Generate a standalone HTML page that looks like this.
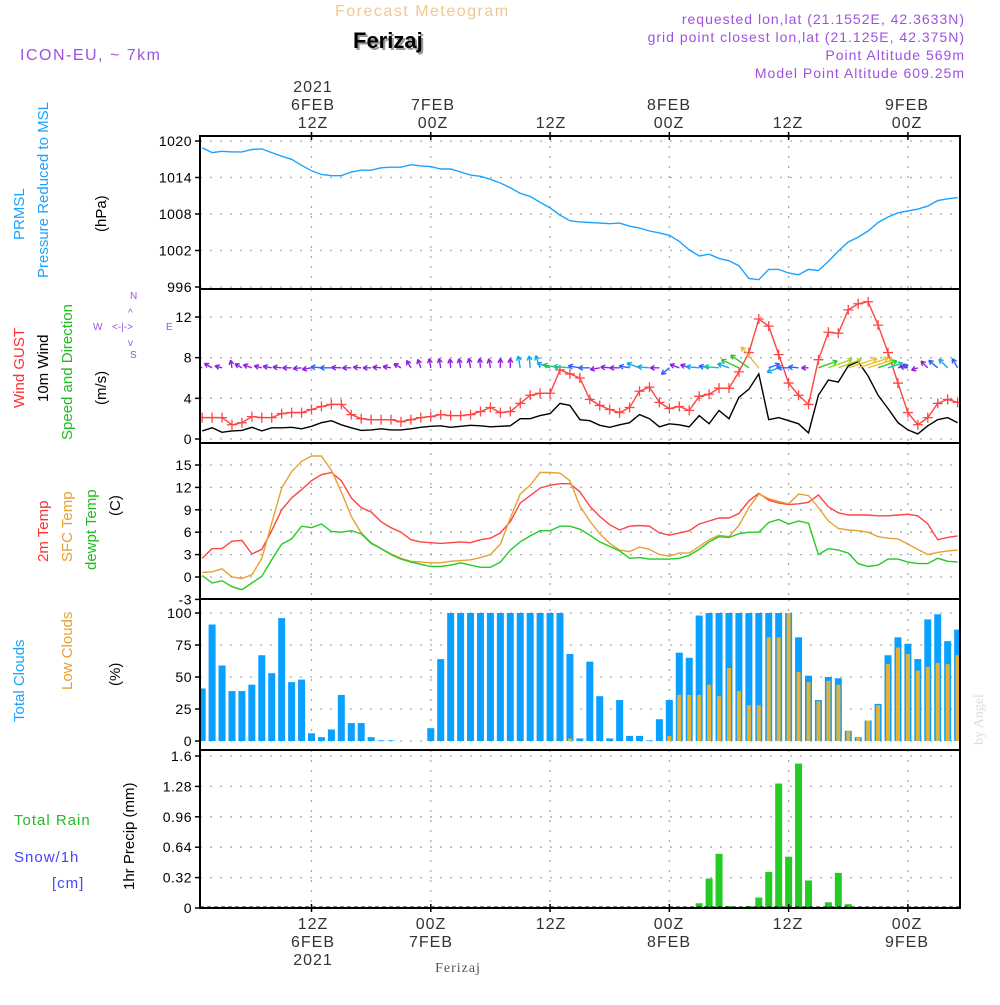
<!DOCTYPE html>
<html><head><meta charset="utf-8"><style>
body{margin:0;background:#fff}
svg text{font-family:"Liberation Sans",sans-serif}
</style></head><body>
<svg id="c" width="1000" height="1000" viewBox="0 0 1000 1000" xmlns="http://www.w3.org/2000/svg">
<rect width="1000" height="1000" fill="#fff"/>
<text x="20" y="60" font-size="16" fill="#a050e0" letter-spacing="1.5">ICON-EU, ~ 7km</text>
<text x="335" y="16" font-size="16" fill="#f0c890" letter-spacing="1.5">Forecast Meteogram</text>
<text x="355" y="50" font-size="22" font-weight="bold" fill="#999">Ferizaj</text>
<text x="353" y="48" font-size="22" font-weight="bold" fill="#000">Ferizaj</text>
<g font-size="14" fill="#a050e0" text-anchor="end" letter-spacing="1">
<text x="965" y="24">requested lon,lat (21.1552E, 42.3633N)</text>
<text x="965" y="42">grid point closest lon,lat (21.125E, 42.375N)</text>
<text x="965" y="60">Point Altitude 569m</text>
<text x="965" y="78">Model Point Altitude 609.25m</text>
</g>
<g font-size="16" fill="#333" text-anchor="middle" letter-spacing="1">
<text x="313" y="92">2021</text><text x="313" y="110">6FEB</text><text x="313" y="128">12Z</text>
<text x="433" y="110">7FEB</text><text x="433" y="128">00Z</text>
<text x="551" y="128">12Z</text>
<text x="669" y="110">8FEB</text><text x="669" y="128">00Z</text>
<text x="788" y="128">12Z</text>
<text x="907" y="110">9FEB</text><text x="907" y="128">00Z</text>
</g>
<g font-size="16" fill="#333" text-anchor="middle" letter-spacing="1">
<text x="313" y="929">12Z</text><text x="313" y="947">6FEB</text><text x="313" y="965">2021</text>
<text x="431" y="929">00Z</text><text x="431" y="947">7FEB</text>
<text x="551" y="929">12Z</text>
<text x="669" y="929">00Z</text><text x="669" y="947">8FEB</text>
<text x="788" y="929">12Z</text>
<text x="907" y="929">00Z</text><text x="907" y="947">9FEB</text>
</g>
<text x="458" y="972" font-size="14" fill="#555" text-anchor="middle" style="font-family:'Liberation Serif',serif" letter-spacing="1">Ferizaj</text>
<text transform="translate(983,745) rotate(-90)" font-size="14" fill="#ddd" style="font-family:'Liberation Serif',serif">by Angel</text>
<g font-size="15">
<text transform="translate(24,240) rotate(-90)" fill="#1aa3ff">PRMSL</text>
<text transform="translate(48,278) rotate(-90)" fill="#1aa3ff">Pressure Reduced to MSL</text>
<text transform="translate(106,232) rotate(-90)" fill="#000">(hPa)</text>
<text transform="translate(24,408) rotate(-90)" fill="#ff3030">Wind GUST</text>
<text transform="translate(48,402) rotate(-90)" fill="#000">10m Wind</text>
<text transform="translate(72,440) rotate(-90)" fill="#22bb22">Speed and Direction</text>
<text transform="translate(106,405) rotate(-90)" fill="#000">(m/s)</text>
<text transform="translate(48,562) rotate(-90)" fill="#ff3030">2m Temp</text>
<text transform="translate(72,562) rotate(-90)" fill="#e8a030">SFC Temp</text>
<text transform="translate(96,570) rotate(-90)" fill="#22bb22">dewpt Temp</text>
<text transform="translate(120,516) rotate(-90)" fill="#000">(C)</text>
<text transform="translate(24,722) rotate(-90)" fill="#1aa3ff">Total Clouds</text>
<text transform="translate(72,690) rotate(-90)" fill="#e8a030">Low Clouds</text>
<text transform="translate(120,686) rotate(-90)" fill="#000">(%)</text>
<text transform="translate(134,890) rotate(-90)" fill="#000">1hr Precip (mm)</text>
<text x="14" y="825" fill="#22bb22" letter-spacing="1">Total  Rain</text>
<text x="14" y="862" fill="#4444ff" letter-spacing="1">Snow/1h</text>
<text x="52" y="888" fill="#4444ff" letter-spacing="1">[cm]</text>
</g>
<g font-size="10" fill="#a050e0">
<text x="130" y="299">N</text><text x="130" y="358">S</text><text x="93" y="330">W</text><text x="166" y="330">E</text>
<text x="112" y="330">&lt;-|-&gt;</text><text x="128" y="316">^</text><text x="128" y="346">v</text>
</g>
<g id="plot"></g>
</svg>
<script>
const hours=[1,2,3,4,5,6,7,8,9,10,11,12,13,14,15,16,17,18,19,20,21,22,23,24,25,26,27,28,29,30,31,32,33,34,35,36,37,38,39,40,41,42,43,44,45,46,47,48,49,50,51,52,53,54,55,56,57,58,59,60,61,62,63,64,65,66,67,68,69,70,71,72,73,74,75,76,77];
const pressure=[1018.9,1018.1,1018.3,1018.2,1018.2,1018.6,1018.7,1018.1,1017.5,1017.0,1016.0,1015.1,1014.5,1014.3,1014.3,1014.9,1015.2,1015.2,1015.6,1015.7,1015.7,1016.1,1015.9,1015.8,1015.4,1015.4,1014.9,1014.4,1014.2,1013.7,1013.1,1012.3,1011.4,1010.9,1009.9,1009.0,1007.8,1006.9,1006.7,1006.6,1006.5,1006.4,1006.5,1006.0,1005.7,1005.2,1004.9,1004.5,1003.5,1002.1,1001.1,1001.4,1000.7,1000.3,999.5,997.4,997.2,998.9,998.9,998.3,998.0,998.9,998.7,1000.2,1001.9,1003.4,1004.2,1005.2,1006.6,1007.5,1008.2,1008.5,1008.8,1009.3,1010.2,1010.5,1010.7];
const gust=[2.1,2.1,2.1,1.4,1.6,2.2,2.1,2.1,2.5,2.6,2.6,2.9,3.2,3.4,3.4,2.4,2.0,1.9,1.9,1.9,1.7,1.9,2.1,2.2,2.4,2.3,2.3,2.4,2.7,3.1,2.6,2.7,3.5,4.3,4.5,4.5,6.8,6.4,6.0,3.9,3.3,2.9,2.6,3.1,4.7,5.1,3.6,3.0,3.2,2.8,4.2,4.4,5.0,5.0,6.6,8.5,11.8,11.1,8.3,5.5,4.3,3.4,7.8,10.5,10.4,12.7,13.3,13.5,11.2,8.5,5.5,2.6,1.4,2.1,3.5,3.9,3.6];
const wind10=[0.8,1.1,0.66,0.8,0.85,1.15,0.8,1.1,1.1,1.15,1.0,1.25,1.6,1.8,1.4,1.1,0.85,0.9,1.0,0.9,0.9,1.0,1.15,1.25,1.3,1.15,1.25,1.35,1.3,1.2,1.25,1.3,2.0,2.0,2.3,2.5,3.5,3.3,1.9,1.8,1.35,1.15,1.4,1.6,2.4,2.0,1.2,1.5,1.4,1.2,2.3,1.5,2.8,2.0,4.1,4.9,6.4,1.9,2.1,1.8,1.5,0.6,4.3,5.8,5.6,7.2,7.6,6.2,4.3,3.0,1.6,0.9,0.5,1.3,1.9,2.1,1.6];
const windDir=[160,150,165,100,150,160,165,170,175,180,185,190,175,180,178,180,175,180,175,170,150,120,110,100,100,95,100,100,95,100,90,90,100,95,110,160,170,175,170,180,190,175,180,170,160,175,180,220,160,160,175,170,175,160,155,145,130,20,200,180,175,180,20,20,20,18,18,18,20,18,15,170,200,135,140,135,120];
const temp2m=[2.5,3.8,3.8,4.8,4.9,3.1,3.7,6.2,9.0,10.6,11.7,12.9,13.7,14.0,12.9,10.6,9.3,8.7,7.4,6.6,6.0,5.0,4.7,4.6,4.5,4.6,4.7,4.6,5.0,5.2,5.9,7.4,9.9,10.9,11.9,12.3,12.5,12.5,11.4,9.5,8.1,7.0,6.3,6.8,6.9,6.8,5.9,5.6,5.9,6.2,7.1,7.5,7.9,7.9,8.5,10.2,11.2,10.3,9.9,9.7,9.8,10.0,11.0,9.4,8.6,8.3,8.3,8.3,8.2,8.2,8.3,8.4,8.2,7.1,5.0,5.3,5.5];
const tempSfc=[0.6,0.7,1.1,0.0,-0.2,0.3,2.5,7.2,11.9,14.1,15.5,16.2,16.2,14.3,11.4,8.1,5.9,4.6,3.8,3.1,2.5,2.1,2.0,1.9,1.9,2.1,2.2,2.3,2.6,3.0,4.4,7.9,11.1,12.3,14.0,14.0,13.9,12.9,9.5,7.5,5.8,4.5,3.6,3.4,4.0,3.7,3.0,2.8,3.2,3.2,4.1,5.0,5.6,5.4,6.9,9.3,11.1,10.5,10.1,9.8,11.1,10.9,9.3,7.5,6.5,6.3,6.2,6.0,5.4,5.2,5.1,4.4,3.7,3.0,3.3,3.5,3.6];
const dewpt=[0.2,-0.8,-0.5,-1.3,-1.7,-0.8,0.1,2.3,4.4,5.1,6.8,6.6,7.1,6.1,6.0,6.2,5.8,4.5,3.8,3.0,2.4,2.0,1.7,1.4,1.4,1.6,1.9,1.6,1.3,1.3,2.0,3.6,4.7,5.5,6.2,6.2,6.8,6.8,6.4,5.6,4.7,4.1,3.5,2.5,2.6,2.4,2.4,2.4,2.5,2.9,3.7,4.7,5.4,5.3,5.8,6.0,6.0,7.3,7.7,7.1,7.5,7.2,3.0,3.8,3.6,3.2,1.8,1.4,1.6,2.4,2.4,2.0,1.8,1.8,2.5,2.1,2.0];
const totalClouds=[41,91,59,39,39,44,67,53,96,46,48,6,3,9,36,14,14,3,0.5,0.5,0,0,0,10,64,100,100,100,100,100,100,100,100,100,100,100,100,68,2,62,35,2,32,4,4,0.5,17,32,69,65,98,100,100,100,100,100,100,100,100,100,81,51,32,50,49,8,3,16,29,67,81,76,64,95,99,78,87];
const lowClouds=[0,0,0,0,0,0,0,0,0,0,0,0,0,0,0,0,0,0,0,0,0,0,0,0,0,0,0,0,0,0,0,0,0,0,0,0,0,2,0,0,0,0,0,0,0,0,0,4,36,36,36,44,35,57,39,28,28,81,81,100,54,46,31,47,44,8,3,16,28,60,73,68,55,58,61,60,67];
const precip=[0,0,0,0,0,0,0,0,0,0,0,0,0,0,0,0,0,0,0,0,0,0,0,0,0,0,0,0,0,0,0,0,0,0,0,0,0,0,0,0,0,0,0,0,0,0,0,0,0,0,0.05,0.31,0.57,0.02,0,0.02,0.11,0.38,1.31,0.54,1.52,0.29,0,0.06,0.37,0.04,0,0,0,0,0,0,0,0,0,0,0];
const presTicks=[996,1002,1008,1014,1020];
const windTicks=[0,4,8,12];
const tempTicks=[-3,0,3,6,9,12,15];
const cloudTicks=[0,25,50,75,100];
const precipTicks=[0,0.32,0.64,0.96,1.28,1.6];
const timeGrid=[12,24,36,48,60,72];

const NS='http://www.w3.org/2000/svg';
const plot=document.getElementById('plot');
const L=200,R=960;
function xh(h){return 311.5+(h-12)*9.94;}
function lin(v0,y0,v1,y1){return v=>y0+(v-v0)*(y1-y0)/(v1-v0);}
const yP=lin(996,287,1020,141), yW=lin(0,439,12,317), yT=lin(0,577,15,465), yC=lin(0,741,100,613), yR=lin(0,908,1.6,756);
function mk(tag,attrs,parent){const e=document.createElementNS(NS,tag);for(const k in attrs)e.setAttribute(k,attrs[k]);(parent||plot).appendChild(e);return e;}
const panels=[[136,289,presTicks,yP,'pressure-panel',v=>v],[289,443,windTicks,yW,'wind-panel',v=>v],[443,599,tempTicks,yT,'temperature-panel',v=>v],[599,750,cloudTicks,yC,'clouds-panel',v=>v],[750,908,precipTicks,yR,'precip-panel',v=>v]];
const defs=mk('defs',{});
panels.forEach((p,i)=>{
  const cp=mk('clipPath',{id:'cp'+i},defs);mk('rect',{x:L,y:p[0],width:R-L,height:p[1]-p[0]},cp);
  const g=mk('g',{'clip-path':'url(#cp'+i+')'});
  
  
  p.g=g;
  p[2].forEach(t=>{const y=p[3](t);
    const gl=mk('line',{x1:L,x2:R,y1:y,y2:y,stroke:'#aaa','stroke-width':1.3,'stroke-dasharray':'2,8'},g);
    
    
    const tk=mk('line',{x1:L-5,x2:L,y1:y,y2:y,stroke:'#000','stroke-width':1.5});
    
    
    if(y>p[0]-2&&y<p[1]+10){const tx=mk('text',{x:L-8,y:y+5,'font-size':14,'text-anchor':'end',fill:'#000','letter-spacing':'0.5'});tx.textContent=String(t);
    
    }
  });
  timeGrid.forEach(h=>{const vl=mk('line',{x1:xh(h),x2:xh(h),y1:p[0],y2:p[1],stroke:'#aaa','stroke-width':1.3,'stroke-dasharray':'2,8'},g);
    
    });
});
function line(arr,ys,color,g,name){const pts=arr.map((v,i)=>xh(hours[i]).toFixed(1)+','+ys(v).toFixed(1)).join(' ');
  const e=mk('polyline',{points:pts,fill:'none',stroke:color,'stroke-width':1.4},g);
  
  }
line(pressure,yP,'#1aa3ff',panels[0].g,'pressure-line');
line(wind10,yW,'#000',panels[1].g,'wind-10m-line');
line(gust,yW,'#ff4444',panels[1].g,'gust-line');
gust.forEach((v,i)=>{const x=xh(hours[i]),y=yW(v);
  const m=mk('path',{d:`M${x-5},${y}h10M${x},${y-5}v10`,stroke:'#ff4444','stroke-width':1.3},panels[1].g);
  
  });
function wcol(s){return s<1.5?'#9020e0':s<2?'#3060ff':s<2.6?'#10a8f0':s<3.5?'#10c8a0':s<5?'#30c830':s<6?'#b0d030':'#e8c030';}
wind10.forEach((s,i)=>{const x0=xh(hours[i]),y0=yW(7);const a=windDir[i]*Math.PI/180;const len=5+s*3.5;
  const x1=x0+Math.cos(a)*len,y1=y0-Math.sin(a)*len;
  const b1=a+Math.PI-0.5,b2=a+Math.PI+0.5;
  const d=`M${x0},${y0}L${x1},${y1}M${x1},${y1}l${Math.cos(b1)*5},${-Math.sin(b1)*5}M${x1},${y1}l${Math.cos(b2)*5},${-Math.sin(b2)*5}`;
  const e=mk('path',{d:d,stroke:wcol(s),'stroke-width':1.4,fill:'none'},panels[1].g);
  
  });
line(temp2m,yT,'#ff4444',panels[2].g,'temp-2m-line');
line(tempSfc,yT,'#e8a030',panels[2].g,'temp-sfc-line');
line(dewpt,yT,'#22cc22',panels[2].g,'dewpoint-line');
totalClouds.forEach((v,i)=>{const x=xh(hours[i]);const y=yC(v);
  const e=mk('rect',{x:x-3.5,y:y,width:7,height:yC(0)-y,fill:'#0aa0ff'},panels[3].g);
  
  
  const yl=yC(lowClouds[i]);
  const f=mk('rect',{x:x-2,y:yl,width:4,height:yC(0)-yl,fill:'#e8b030'},panels[3].g);
  
  });
precip.forEach((v,i)=>{if(v<=0)return;const x=xh(hours[i]);const y=yR(v);
  const e=mk('rect',{x:x-3.5,y:y,width:7,height:yR(0)-y,fill:'#22cc22'},panels[4].g);
  
  });
mk('line',{x1:L,x2:R,y1:907,y2:907,stroke:'#000','stroke-width':1,'stroke-dasharray':'4,3'},panels[4].g);
panels.forEach(p=>{const r=mk('rect',{x:L,y:p[0],width:R-L,height:p[1]-p[0],fill:'none',stroke:'#000','stroke-width':2});
  
  });
timeGrid.forEach(h=>{[136,908].forEach(y=>{const t=mk('line',{x1:xh(h),x2:xh(h),y1:y-4,y2:y+4,stroke:'#000','stroke-width':1.5});
  
  });});
</script>
</body></html>
